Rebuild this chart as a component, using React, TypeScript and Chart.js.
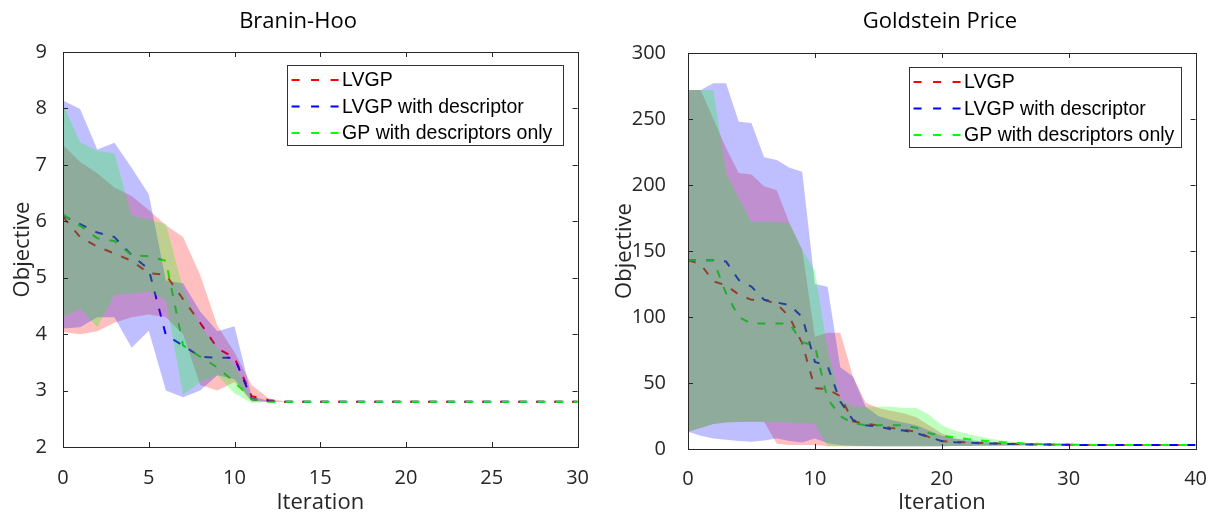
import { useEffect, useRef } from "react";
import { Chart, registerables } from "chart.js";

Chart.register(...registerables);

// ---------------- Branin-Hoo (left) ----------------
const braninIterations = Array.from({ length: 31 }, (_, i) => i);
const braninLvgpMean = [6.08, 5.72, 5.55, 5.43, 5.3, 5.08, 5.05, 4.62, 4.2, 3.75, 3.58, 2.9, 2.83, 2.8, 2.8, 2.8, 2.8, 2.8, 2.8, 2.8, 2.8, 2.8, 2.8, 2.8, 2.8, 2.8, 2.8, 2.8, 2.8, 2.8, 2.8];
const braninDescMean = [6.1, 5.95, 5.8, 5.72, 5.4, 5.15, 3.98, 3.8, 3.6, 3.58, 3.58, 2.85, 2.81, 2.8, 2.8, 2.8, 2.8, 2.8, 2.8, 2.8, 2.8, 2.8, 2.8, 2.8, 2.8, 2.8, 2.8, 2.8, 2.8, 2.8, 2.8];
const braninGpMean = [6.12, 5.92, 5.7, 5.65, 5.4, 5.38, 5.3, 3.8, 3.6, 3.41, 3.15, 2.85, 2.8, 2.8, 2.8, 2.8, 2.8, 2.8, 2.8, 2.8, 2.8, 2.8, 2.8, 2.8, 2.8, 2.8, 2.8, 2.8, 2.8, 2.8, 2.8];
const braninLvgpUpper = [7.35, 7.05, 6.85, 6.6, 6.45, 6.2, 5.93, 5.72, 5.05, 4.15, 3.68, 3.1, 2.86, 2.8, 2.8, 2.8, 2.8, 2.8, 2.8, 2.8, 2.8, 2.8, 2.8, 2.8, 2.8, 2.8, 2.8, 2.8, 2.8, 2.8, 2.8];
const braninLvgpLower = [4.04, 4.0, 4.05, 4.2, 4.3, 4.35, 4.3, 4.0, 3.1, 3.0, 3.15, 2.8, 2.8, 2.8, 2.8, 2.8, 2.8, 2.8, 2.8, 2.8, 2.8, 2.8, 2.8, 2.8, 2.8, 2.8, 2.8, 2.8, 2.8, 2.8, 2.8];
const braninDescUpper = [8.14, 7.99, 7.27, 7.39, 6.95, 6.48, 4.95, 4.9, 4.4, 4.05, 4.14, 2.9, 2.82, 2.8, 2.8, 2.8, 2.8, 2.8, 2.8, 2.8, 2.8, 2.8, 2.8, 2.8, 2.8, 2.8, 2.8, 2.8, 2.8, 2.8, 2.8];
const braninDescLower = [4.1, 4.12, 4.3, 4.3, 3.76, 4.06, 3.0, 2.88, 3.0, 3.27, 3.2, 2.82, 2.8, 2.8, 2.8, 2.8, 2.8, 2.8, 2.8, 2.8, 2.8, 2.8, 2.8, 2.8, 2.8, 2.8, 2.8, 2.8, 2.8, 2.8, 2.8];
const braninGpUpper = [8.08, 7.4, 7.25, 7.2, 6.1, 6.03, 5.95, 4.8, 4.15, 3.75, 3.45, 2.85, 2.8, 2.8, 2.8, 2.8, 2.8, 2.8, 2.8, 2.8, 2.8, 2.8, 2.8, 2.8, 2.8, 2.8, 2.8, 2.8, 2.8, 2.8, 2.8];
const braninGpLower = [4.3, 4.45, 4.12, 4.7, 4.72, 4.75, 4.6, 2.92, 3.15, 3.27, 2.95, 2.78, 2.8, 2.8, 2.8, 2.8, 2.8, 2.8, 2.8, 2.8, 2.8, 2.8, 2.8, 2.8, 2.8, 2.8, 2.8, 2.8, 2.8, 2.8, 2.8];
const braninXTicks = [0, 30, 5];
const braninYTicks = [2, 9, 1];

// ---------------- Goldstein Price (right) ----------------
const goldIterations = Array.from({ length: 41 }, (_, i) => i);
const goldLvgpMean = [143, 140, 127, 124, 117, 113, 113, 110, 100, 80, 46, 45.5, 40, 21, 19, 18, 16, 14.5, 13, 9, 6, 5.3, 5, 4.6, 4.3, 4, 3.8, 3.6, 3.4, 3.3, 3.2, 3.1, 3.05, 3, 3, 3, 3, 3, 3, 3, 3];
const goldDescMean = [143, 143, 143, 142, 128, 123, 113, 111, 109, 100, 66, 63, 36, 22, 18, 17, 15, 14, 12, 9, 6, 5.2, 4.8, 4.4, 4.1, 3.9, 3.7, 3.5, 3.4, 3.3, 3.2, 3.1, 3.05, 3, 3, 3, 3, 3, 3, 3, 3];
const goldGpMean = [143, 143, 143, 118, 100, 95, 95, 95, 95, 81, 78, 38, 25, 19.5, 18, 18, 18, 18, 16, 12, 10, 9, 7.5, 6.5, 5.5, 5, 4.5, 4, 3.7, 3.5, 3.3, 3.2, 3.1, 3.05, 3, 3, 3, 3, 3, 3, 3];
const goldLvgpUpper = [272, 272, 250, 228, 209, 208, 199, 196, 171, 151, 85, 88, 88, 55, 35, 31, 29, 27, 24, 18, 12, 8, 6, 5, 4.5, 4, 3.8, 3.6, 3.4, 3.3, 3.2, 3.1, 3.05, 3, 3, 3, 3, 3, 3, 3, 3];
const goldLvgpLower = [13, 16, 19, 20, 20.5, 20.7, 20.7, 4, 3, 3, 3, 2, 2, 2, 2, 2, 2, 2, 2, 2, 2.1, 2.2, 2.3, 2.4, 2.5, 2.6, 2.7, 2.8, 2.85, 2.9, 2.9, 2.95, 2.95, 3, 3, 3, 3, 3, 3, 3, 3];
const goldDescUpper = [272, 272, 277, 277, 248, 247, 221, 219, 213, 210, 125, 123, 62, 55, 32, 25, 22, 20, 18, 14, 10, 8, 7, 6, 5, 4.5, 4, 3.8, 3.6, 3.4, 3.3, 3.2, 3.1, 3.05, 3, 3, 3, 3, 3, 3, 3];
const goldDescLower = [13, 10, 8, 7, 6, 5.5, 6.5, 8, 6, 5, 8, 4.3, 3, 2.5, 2.2, 2, 2, 2, 2, 2, 2.1, 2.2, 2.3, 2.4, 2.5, 2.6, 2.7, 2.8, 2.85, 2.9, 2.9, 2.95, 2.95, 3, 3, 3, 3, 3, 3, 3, 3];
const goldGpUpper = [272, 272, 272, 209, 190, 172, 172, 172, 171, 151, 135, 75, 38, 32, 32, 32, 32, 31, 31, 26, 18, 14, 11.5, 9.5, 7.5, 6, 5, 4.3, 3.8, 3.5, 3.3, 3.2, 3.1, 3.05, 3, 3, 3, 3, 3, 3, 3];
const goldGpLower = [13, 16, 19, 20, 20.5, 20.7, 20.7, 20.5, 20, 19.5, 19, 2, 2, 2, 2, 2, 2, 2, 2, 2, 2.1, 2.2, 2.3, 2.4, 2.5, 2.6, 2.7, 2.8, 2.85, 2.9, 2.9, 2.95, 2.95, 3, 3, 3, 3, 3, 3, 3, 3];
const goldXTicks = [0, 40, 10];
const goldYTicks = [0, 300, 50];

const seriesLabels = ["LVGP", "LVGP with descriptor", "GP with descriptors only"];
const lineColors = ["#ff0000", "#0000ff", "#00ff00"];
const bandColors = ["rgba(255,0,0,0.25)", "rgba(0,0,255,0.25)", "rgba(0,255,0,0.25)"];

const AXIS_COLOR = "#262626";
const UI_FONT = "'Open Sans', 'DejaVu Sans', sans-serif";

const toPoints = (xs: number[], ys: number[]) => xs.map((x, i) => ({ x, y: ys[i] }));

// MATLAB-like box with inward ticks on all four sides
const matlabBox = {
  id: "matlabBox",
  afterDatasetsDraw(chart: any) {
    const { ctx, chartArea, scales } = chart;
    const { left, right, top, bottom } = chartArea;
    const len = 5;
    ctx.save();
    ctx.strokeStyle = AXIS_COLOR;
    ctx.lineWidth = 1;
    ctx.setLineDash([]);
    ctx.strokeRect(Math.round(left) + 0.5, Math.round(top) + 0.5, Math.round(right - left), Math.round(bottom - top));
    ctx.beginPath();
    scales.x.ticks.forEach((t: any) => {
      const px = Math.round(scales.x.getPixelForValue(t.value)) + 0.5;
      ctx.moveTo(px, bottom);
      ctx.lineTo(px, bottom - len);
      ctx.moveTo(px, top);
      ctx.lineTo(px, top + len);
    });
    scales.y.ticks.forEach((t: any) => {
      const py = Math.round(scales.y.getPixelForValue(t.value)) + 0.5;
      ctx.moveTo(left, py);
      ctx.lineTo(left + len, py);
      ctx.moveTo(right, py);
      ctx.lineTo(right - len, py);
    });
    ctx.stroke();
    ctx.restore();
  },
};

// Boxed legend inside the plot, top-right
const boxLegend = {
  id: "boxLegend",
  afterDraw(chart: any, _args: any, opts: any) {
    const { ctx, chartArea } = chart;
    const x0 = chartArea.right - opts.insetRight - opts.width;
    const y0 = chartArea.top + opts.insetTop;
    ctx.save();
    ctx.fillStyle = "#ffffff";
    ctx.fillRect(x0, y0, opts.width, opts.height);
    ctx.strokeStyle = "#333333";
    ctx.lineWidth = 1;
    ctx.strokeRect(Math.round(x0) + 0.5, Math.round(y0) + 0.5, opts.width, opts.height);
    const items = chart.data.datasets.filter((d: any) => d.inLegend);
    items.forEach((d: any, k: number) => {
      const cy = y0 + opts.firstRow + k * opts.rowGap;
      ctx.setLineDash([8, 11.5]);
      ctx.strokeStyle = d.borderColor;
      ctx.lineWidth = 2;
      ctx.beginPath();
      ctx.moveTo(x0 + 5, cy);
      ctx.lineTo(x0 + 52, cy);
      ctx.stroke();
      ctx.setLineDash([]);
      ctx.fillStyle = "#000000";
      ctx.font = "19.5px 'Liberation Sans', Arial, sans-serif";
      ctx.textBaseline = "middle";
      ctx.textAlign = "left";
      ctx.fillText(d.label, x0 + 55.5, cy + 1);
    });
    ctx.restore();
  },
};

// Title centred at a given x
const sideTitle = {
  id: "sideTitle",
  afterDraw(chart: any, _args: any, opts: any) {
    const { ctx } = chart;
    ctx.save();
    ctx.fillStyle = "#000000";
    ctx.font = `22px ${UI_FONT}`;
    ctx.textBaseline = "middle";
    ctx.textAlign = "center";
    ctx.fillText(opts.text, opts.x, opts.y);
    ctx.restore();
  },
};

type Spec = {
  title: string;
  titleX: number;
  iterations: number[];
  means: number[][];
  lowers: number[][];
  uppers: number[][];
  xTicks: number[];
  yTicks: number[];
  yAxisWidth: number;
  xAxisHeight: number;
  padTop: number;
  padRight: number;
  yTickPad: number;
  xTickPad: number;
  yTitlePad: number;
  legendWidth: number;
  legendInsetTop: number;
};

function buildConfig(s: Spec): any {
  const datasets: any[] = [];
  s.means.forEach((m, k) => {
    datasets.push({
      label: seriesLabels[k],
      inLegend: true,
      data: toPoints(s.iterations, m),
      borderColor: lineColors[k],
      backgroundColor: lineColors[k],
      borderWidth: 2,
      borderDash: [8, 10],
      pointRadius: 0,
      fill: false,
      order: 12 - k,
    });
  });
  s.lowers.forEach((lo, k) => {
    datasets.push({
      label: seriesLabels[k] + " lower",
      data: toPoints(s.iterations, lo),
      borderColor: "rgba(0,0,0,0)",
      borderWidth: 0,
      pointRadius: 0,
      fill: false,
      order: 3 - k,
    });
    datasets.push({
      label: seriesLabels[k] + " upper",
      data: toPoints(s.iterations, s.uppers[k]),
      borderColor: "rgba(0,0,0,0)",
      backgroundColor: bandColors[k],
      borderWidth: 0,
      pointRadius: 0,
      fill: "-1",
      order: 3 - k,
    });
  });
  const tickFont = { family: UI_FONT, size: 20 };
  const titleFont = { family: UI_FONT, size: 22 };
  return {
    type: "line",
    data: { datasets },
    plugins: [matlabBox, boxLegend, sideTitle],
    options: {
      animation: false,
      responsive: false,
      maintainAspectRatio: false,
      layout: { padding: { top: s.padTop, right: s.padRight, left: 0, bottom: 0 } },
      plugins: {
        legend: { display: false },
        tooltip: { enabled: false },
        title: { display: false },
        boxLegend: { insetRight: 15, insetTop: s.legendInsetTop, width: s.legendWidth, height: 80, firstRow: 15, rowGap: 26.5 },
        sideTitle: { text: s.title, x: s.titleX, y: 22 },
        filler: { propagate: false },
      },
      elements: { line: { tension: 0 } },
      scales: {
        x: {
          type: "linear",
          min: s.xTicks[0],
          max: s.xTicks[1],
          ticks: { stepSize: s.xTicks[2], padding: s.xTickPad, color: AXIS_COLOR, font: tickFont, maxRotation: 0, autoSkip: false },
          grid: { display: false },
          border: { display: false },
          title: { display: true, text: "Iteration", color: AXIS_COLOR, font: titleFont, padding: { top: 0, bottom: 1 } },
          afterFit(scale: any) {
            scale.height = s.xAxisHeight;
          },
        },
        y: {
          type: "linear",
          min: s.yTicks[0],
          max: s.yTicks[1],
          ticks: { stepSize: s.yTicks[2], padding: s.yTickPad, color: AXIS_COLOR, font: tickFont },
          grid: { display: false },
          border: { display: false },
          title: { display: true, text: "Objective", color: AXIS_COLOR, font: titleFont, padding: { top: s.yTitlePad, bottom: 0 } },
          afterFit(scale: any) {
            scale.width = s.yAxisWidth;
          },
        },
      },
    },
  };
}

function PlotCanvas({ spec, left, width }: { spec: Spec; left: number; width: number }) {
  const ref = useRef<HTMLCanvasElement | null>(null);
  useEffect(() => {
    if (!ref.current) return;
    const chart = new Chart(ref.current, buildConfig(spec));
    return () => chart.destroy();
  }, []);
  return (
    <canvas
      ref={ref}
      width={width}
      height={517}
      style={{ position: "absolute", left, top: 0, width, height: 517 }}
    />
  );
}

const braninSpec: Spec = {
  title: "Branin-Hoo",
  titleX: 298,
  iterations: braninIterations,
  means: [braninLvgpMean, braninDescMean, braninGpMean],
  lowers: [braninLvgpLower, braninDescLower, braninGpLower],
  uppers: [braninLvgpUpper, braninDescUpper, braninGpUpper],
  xTicks: braninXTicks,
  yTicks: braninYTicks,
  yAxisWidth: 63,
  xAxisHeight: 70,
  padTop: 52,
  padRight: 16,
  yTickPad: 8,
  xTickPad: 11,
  yTitlePad: 10,
  legendWidth: 276,
  legendInsetTop: 13,
};

const goldSpec: Spec = {
  title: "Goldstein Price",
  titleX: 340,
  iterations: goldIterations,
  means: [goldLvgpMean, goldDescMean, goldGpMean],
  lowers: [goldLvgpLower, goldDescLower, goldGpLower],
  uppers: [goldLvgpUpper, goldDescUpper, goldGpUpper],
  xTicks: goldXTicks,
  yTicks: goldYTicks,
  yAxisWidth: 88,
  xAxisHeight: 68,
  padTop: 53,
  padRight: 17,
  yTickPad: 14,
  xTickPad: 10,
  yTitlePad: 12,
  legendWidth: 272,
  legendInsetTop: 14,
};

export default function App() {
  return (
    <div style={{ position: "absolute", left: 0, top: 0, width: 1217, height: 517, background: "#ffffff", overflow: "hidden" }}>
      <PlotCanvas spec={braninSpec} left={0} width={600} />
      <PlotCanvas spec={goldSpec} left={600} width={617} />
    </div>
  );
}
